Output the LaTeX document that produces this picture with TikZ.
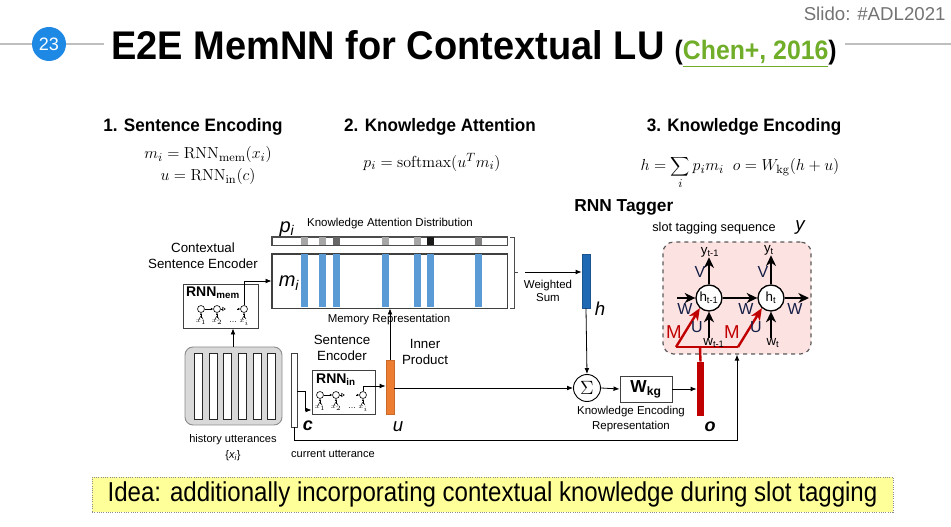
\documentclass[tikz,border=0pt]{standalone}
\usepackage[no-math]{fontspec}
\setmainfont{Liberation Sans}
\usetikzlibrary{arrows.meta,calc,fit}
\definecolor{slideblue}{RGB}{30,136,229}
\definecolor{linkgreen}{RGB}{112,173,40}
\definecolor{memblue}{RGB}{91,155,213}
\definecolor{hblue}{RGB}{31,105,180}
\definecolor{uorange}{RGB}{237,125,49}
\definecolor{tagred}{RGB}{192,0,0}
\definecolor{pinkfill}{RGB}{253,226,226}
\definecolor{ideayellow}{RGB}{255,255,153}
\definecolor{navy}{RGB}{20,30,70}
\newcommand\fsz[1]{\fontsize{#1}{#1}\selectfont}

% a tiny three-cell recurrent chain drawn inside an encoder box
\newcommand\minirnn[3]{%
  \begin{scope}[shift={(#1,#2)}]
    \node[cellc] (#3a) at (0,0) {};
    \node[cellc] (#3b) at (16,0) {};
    \node[cellc] (#3c) at (43,0) {};
    \draw[tinyarr] (#3a) -- (#3b);
    \draw[line width=0.4pt,-{Triangle[open,length=2.5pt,width=3pt]}] (#3b.east) -- ++(5,0);
    \draw[tinyarr] (36,0) -- (#3c.west);
    \foreach \cx in {0,16,43}{
      \draw[tinyarr] (\cx,9) -- (\cx,3.6);
      \draw[line width=0.35pt] (\cx-2,10) -- (\cx,7) -- (\cx+2,10);
    }
    \node[txt,font=\fsz{4.5pt}] at (0,13.5) {$x_1$};
    \node[txt,font=\fsz{4.5pt}] at (16,13.5) {$x_2$};
    \node[txt,font=\fsz{6pt}] at (32,13) {\dots};
    \node[txt,font=\fsz{4.5pt}] at (43,13.5) {$x_i$};
  \end{scope}}

\begin{document}
\begin{tikzpicture}[x=0.75pt,y=-0.75pt,line width=0.6pt,
  txt/.style={inner sep=0pt,align=center},
  arr/.style={-{Latex[length=4.5pt,width=3.6pt]}},
  tinyarr/.style={line width=0.4pt,-{Latex[length=1.8pt,width=1.8pt]}},
  cellc/.style={circle,draw,fill=white,inner sep=0pt,minimum size=5.2pt,line width=0.45pt},
  box/.style={draw=black!75,inner sep=0pt,line width=0.7pt},
  tarr/.style={line width=1.1pt,-{Stealth[length=8pt,width=7.5pt,inset=2.5pt]}},
  marr/.style={draw=tagred,line width=1.8pt,-{Stealth[length=9pt,width=7.5pt,inset=2.5pt]}},
  tcirc/.style={circle,draw,line width=1pt,fill=white,inner sep=0pt,minimum size=19.5pt},
  tl/.style={txt,font=\fsz{12pt},text=navy},
  ml/.style={txt,font=\fsz{14pt},text=tagred},
  head/.style={txt,font=\fsz{13.5pt}\bfseries},
  mid/.style={txt,font=\fsz{10pt}},
  small/.style={txt,font=\fsz{8.6pt}},
  mathl/.style={txt,font=\fsz{13pt}},
  var/.style={txt,font=\fsz{14pt}\itshape},
  bvar/.style={txt,font=\fsz{13.5pt}\bfseries\itshape}]
\useasboundingbox (0,0) rectangle (951,527);

% ---------- slide header ----------
\node[txt,anchor=east,text=black!55,font=\fsz{14pt}] (slido) at (946,14) {Slido: \#ADL2021};
\node[circle,fill=slideblue,inner sep=0pt,minimum size=25.5pt,text=white,font=\fsz{13.5pt}] (num) at (49,44) {23};
\draw[black!25,line width=1.2pt] (0,44) -- (num.west) (num.east) -- (104,44) (845,44) -- (951,44);
\node[txt,anchor=base west,font=\fsz{30pt}\bfseries] (title) at (111,60) {\scalebox{0.95}[1]{E2E MemNN for Contextual LU}};
\node[txt,anchor=base west,font=\fsz{20pt}\bfseries] (cite) at ([xshift=7pt]title.base east)
  {\scalebox{0.93}[1]{(\textcolor{linkgreen}{\underline{Chen+, 2016}})}};

% ---------- section headings and equations ----------
\node[head] (s1) at (193,127) {\scalebox{0.95}[1]{1. Sentence Encoding}};
\node[head] (s2) at (440,127) {\scalebox{0.95}[1]{2. Knowledge Attention}};
\node[head] (s3) at (744,127) {\scalebox{0.95}[1]{3. Knowledge Encoding}};
\node[mathl] (eq1) at (208,155) {$m_i = \mathrm{RNN}_{\mathrm{mem}}(x_i)$};
\node[mathl] (eq2) at (208,177) {$u = \mathrm{RNN}_{\mathrm{in}}(c)$};
\node[mathl] (eq3) at (432,162) {$p_i = \mathrm{softmax}(u^T m_i)$};
\node[mathl,anchor=base] (eq4) at (740,171) {$\displaystyle h=\sum_i p_i m_i \;\; o = W_{\mathrm{kg}}(h+u)$};
\node[txt,anchor=west,font=\fsz{13pt}\bfseries] (tagger) at (574,207) {RNN Tagger};

% ---------- knowledge attention and memory ----------
\node[small] (kad) at (390,224) {Knowledge Attention Distribution};
\node[var,font=\fsz{15pt}\itshape] (plab) at (287,229) {p\textsubscript{i}};
\node[fit={(272,237) (507,245)},box,draw=black!70] (pbar) {};
\foreach \px/\shade in {301/black!35,319/black!35,333/black!60,382/black!35,414/black!35,427/black!90,475/black!50}
  \fill[\shade] (\px,237.4) rectangle ++(7,7.2);
\draw[black!70,line width=0.7pt] (pbar.north west) rectangle (pbar.south east);

\node[fit={(272,254) (507,308)},box] (mem) {};
\foreach \px in {301,319,333,382,414,427,475}
  \fill[memblue] (\px,254.5) rectangle ++(7,53);
\draw[black!75,line width=0.7pt] (mem.north west) rectangle (mem.south east);
\node[var,font=\fsz{15pt}\itshape] (mlab) at (289,283) {m\textsubscript{i}};
\node[small] (memrep) at (389,320) {Memory Representation};

% bracket over the attention bar and the memory
\draw[black!70,line width=0.7pt] (510,237) -- (514,237) -- (514,308) -- (510,308);
\coordinate (brk) at (514,272);
\draw[black!70,line width=0.7pt] (brk) -- ++(4,0);
\coordinate (ws) at (525,272);
\node[small] (wsum) at (548,291) {Weighted\\[1pt]Sum};

% weighted sum vector h
\node[fit={(582,254) (590,308)},inner sep=0pt,fill=hblue,draw=hblue!80!black] (hbar) {};
\node[var] (hlab) at (600,309) {h};
\draw[arr] (ws) -- (hbar.west |- ws);

% ---------- contextual sentence encoder ----------
\node[mid] (cse) at (203,256) {Contextual\\[2pt]Sentence Encoder};
\node[fit={(183,284) (258,328)},box] (rnnmem) {};
\node[txt,font=\fsz{10.5pt}\bfseries] (rnnmemlab) at (213,293) {RNN\textsubscript{mem}};
\minirnn{201}{309}{mc}
\coordinate (memturn) at (0,281);
\draw[arr] (mcc.north) |- (mem.west |- memturn);

% history utterances
\node[fit={(185,347) (282,425)},draw=black!45,fill=black!15,rounded corners=6pt,inner sep=0pt,line width=0.7pt] (hist) {};
\foreach \bx in {194,209,223,238,253,267}
  \draw[black!85,fill=white,line width=0.7pt] (\bx,353) rectangle ++(8,66);
\node[small,font=\fsz{8.3pt}] (histlab) at (233,440) {history utterances};
\node[small,font=\fsz{8.3pt}] (xilab) at (233,456) {\{\textit{x\textsubscript{i}}\}};
\coordinate (histup) at (233,0);
\draw[arr] (hist.north -| histup) -- (rnnmem.south -| histup);

% current utterance
\node[fit={(291,353) (297,427)},box,fill=white] (cbar) {};
\node[bvar] (clab) at (308,426) {c};
\node[small,font=\fsz{8.3pt}] (curlab) at (333,454) {current utterance};

% ---------- sentence encoder ----------
\node[mid] (senc) at (342,348) {Sentence\\[2pt]Encoder};
\node[fit={(312,370) (375,414)},box] (rnnin) {};
\node[txt,font=\fsz{10.5pt}\bfseries] (rnninlab) at (336,380) {RNN\textsubscript{in}};
\minirnn{320}{395}{ic}
\coordinate (cturn) at (305,391);
\coordinate (cdown) at (305,410);
\draw[arr] (cbar.east |- cturn) -- (cturn) -- (cdown) -- (rnnin.west |- cdown);

% encoded utterance u
\node[fit={(386,360) (394,414)},inner sep=0pt,fill=uorange,draw=uorange!85!black] (ubar) {};
\node[var] (ulab) at (398,427) {u};
\coordinate (uin) at (0,386);
\draw[arr] (icc.north) |- (ubar.west |- uin);
\draw[arr] (ubar.north) -- (mem.south -| ubar.north);
\node[mid] (inner) at (425,352) {Inner\\[2pt]Product};

% ---------- knowledge encoding ----------
\node[circle,draw,line width=0.7pt,inner sep=0pt,minimum size=20.25pt,font=\fsz{14pt}] (sig) at (587,388) {$\Sigma$};
\draw[arr] (ubar.east |- sig) -- (sig.west);
\draw[arr] (hbar.south) -- (sig.north);
\node[fit={(620,376) (672,402)},box] (wkg) {};
\node[txt,font=\fsz{13pt}\bfseries] (wkglab) at (646,389) {W\textsubscript{kg}};
\draw[arr] (sig.east) -- (wkg.west);
\node[small] (kerep) at (631,419) {Knowledge Encoding\\[2pt]Representation};
\node[fit={(697,362) (704,416)},inner sep=0pt,fill=tagred] (obar) {};
\draw[arr] (wkg.east) -- (obar.west |- wkg.east);
\node[bvar] (olab) at (710,427) {o};

% ---------- RNN tagger ----------
\node[small,font=\fsz{9.5pt},anchor=west] (stslab) at (652,228) {slot tagging sequence};
\node[var] (ylab) at (800,228) {y};
\node[fit={(663,242) (811,354)},draw=black!65,dashed,line width=0.9pt,fill=pinkfill,rounded corners=8pt,inner sep=0pt] (tagbox) {};

% return path from the current utterance into the tagger
\coordinate (retx) at (737,0);
\draw[arr] (cbar.south) -- ++(0,13) -| (tagbox.south -| retx);

% knowledge vector o feeding both time steps
\coordinate (mbase) at (700,347);
\coordinate (ml) at (676,347);
\coordinate (mr) at (738,347);
\draw[tagred,line width=1.8pt] (obar.north) -- (mbase);
\draw[tagred,line width=1.8pt] (ml) -- (mr);

\node[tcirc] (hp) at (709,298) {};
\node[tcirc] (hc) at (771,298) {};
\node[txt,font=\fsz{10pt}] at (hp) {h\textsubscript{t-1}};
\node[txt,font=\fsz{10pt}] at (hc) {h\textsubscript{t}};

\draw[marr] (ml) -- (hp.228);
\draw[marr] (mr) -- (hc.228);

\node[txt,font=\fsz{10pt}] (yp) at (710,252) {y\textsubscript{t-1}};
\node[txt,font=\fsz{10pt}] (yc) at (769,250) {y\textsubscript{t}};
\node[txt,font=\fsz{10pt}] (wp) at (714,343) {w\textsubscript{t-1}};
\node[txt,font=\fsz{10pt}] (wc) at (773,343) {w\textsubscript{t}};
\coordinate (tin) at (677,298);
\coordinate (tout) at (809,298);
\draw[tarr] (tin) -- (hp.west);
\draw[tarr] (hp.east) -- (hc.west);
\draw[tarr] (hc.east) -- (tout);
\draw[tarr] (hp.north) -- (yp.south -| hp);
\draw[tarr] (hc.north) -- (yc.south -| hc);
\draw[tarr] (wp.north -| hp) -- (hp.south);
\draw[tarr] (wc.north -| hc) -- (hc.south);

\node[tl] (w1) at (685,309) {W};
\node[tl] (w2) at (746,309) {W};
\node[tl] (w3) at (795,309) {W};
\node[tl] (v1) at (700,272) {V};
\node[tl] (v2) at (763,272) {V};
\node[tl] (u1) at (697,327) {U};
\node[tl] (u2) at (756,327) {U};
\node[ml] (m1) at (674,332) {M};
\node[ml] (m2) at (732,332) {M};

% ---------- idea banner ----------
\node[fit={(92,477) (893,512)},inner sep=0pt,fill=ideayellow,draw=black!45,densely dotted,line width=0.7pt] (idea) {};
\node[txt,font=\fsz{20.5pt}] (ideatxt) at (idea) {\scalebox{0.88}[1]{Idea: additionally incorporating contextual knowledge during slot tagging}};
\end{tikzpicture}
\end{document}
